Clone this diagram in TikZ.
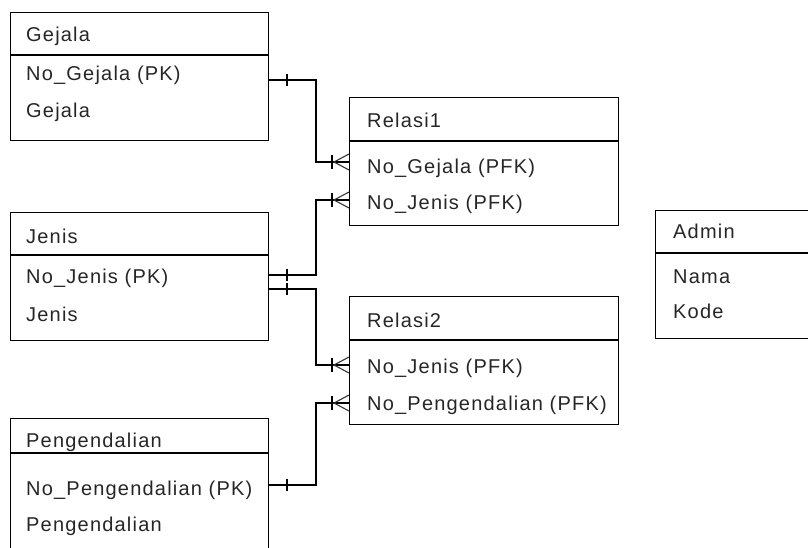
\documentclass[tikz,border=0pt]{standalone}
\usepackage{fontspec}
\setmainfont[LetterSpace=6]{Liberation Sans}
\begin{document}
\begin{tikzpicture}[x=1pt,y=-1pt,
  box/.style={draw=black,line width=1.3pt},
  sep/.style={draw=black,line width=1.3pt},
  txt/.style={anchor=base west,inner sep=0pt,font=\fontsize{20}{24}\selectfont,text=black!85},
  conn/.style={draw=black,line width=1.3pt},
  tick/.style={draw=black,line width=1.3pt},
  crow/.style={draw=black!80,line width=1.1pt}]
\useasboundingbox (0,0) rectangle (808,547);
\begin{scope}
\clip (0,0) rectangle (808,547);
% Gejala
\node[box,anchor=north west,minimum width=258pt,minimum height=128pt,inner sep=0pt] (gejala) at (10,12) {};
\draw[sep] (10,55) -- (268,55);
\node[txt] (gejalaT) at (26,41) {Gejala};
\node[txt] (gejalaA) at (26,80) {No\_Gejala (PK)};
\node[txt] (gejalaB) at (26,117) {Gejala};
% Jenis
\node[box,anchor=north west,minimum width=258pt,minimum height=128pt,inner sep=0pt] (jenis) at (10,212) {};
\draw[sep] (10,255) -- (268,255);
\node[txt] (jenisT) at (26,243) {Jenis};
\node[txt] (jenisA) at (26,283) {No\_Jenis (PK)};
\node[txt] (jenisB) at (26,321) {Jenis};
% Pengendalian
\node[box,anchor=north west,minimum width=258pt,minimum height=150pt,inner sep=0pt] (peng) at (10,418) {};
\draw[sep] (10,453) -- (268,453);
\node[txt] (pengT) at (26,447) {Pengendalian};
\node[txt] (pengA) at (26,495) {No\_Pengendalian (PK)};
\node[txt] (pengB) at (26,531) {Pengendalian};
% Relasi1
\node[box,anchor=north west,minimum width=269pt,minimum height=128pt,inner sep=0pt] (rel1) at (349,97) {};
\draw[sep] (349,141) -- (618,141);
\node[txt] (rel1T) at (367,127) {Relasi1};
\node[txt] (rel1A) at (367,173) {No\_Gejala (PFK)};
\node[txt] (rel1B) at (367,209) {No\_Jenis (PFK)};
% Relasi2
\node[box,anchor=north west,minimum width=269pt,minimum height=128pt,inner sep=0pt] (rel2) at (349,296) {};
\draw[sep] (349,340) -- (618,340);
\node[txt] (rel2T) at (367,327) {Relasi2};
\node[txt] (rel2A) at (367,373) {No\_Jenis (PFK)};
\node[txt] (rel2B) at (367,410) {No\_Pengendalian (PFK)};
% Admin
\node[box,anchor=north west,minimum width=180pt,minimum height=128pt,inner sep=0pt] (admin) at (655,210) {};
\draw[sep] (655,253) -- (835,253);
\node[txt] (adminT) at (673,238) {Admin};
\node[txt] (adminA) at (673,283) {Nama};
\node[txt] (adminB) at (673,318) {Kode};
\end{scope}
% connector end points
\coordinate (g1) at (268,80);  \coordinate (r1a) at (349,162);
\coordinate (j1) at (268,275); \coordinate (r1b) at (349,200);
\coordinate (j2) at (268,289); \coordinate (r2a) at (349,365);
\coordinate (p1) at (268,485); \coordinate (r2b) at (349,403);
% connectors
\draw[conn] (g1) -| (316,121) |- (r1a);
\draw[conn] (j1) -| (316,238) |- (r1b);
\draw[conn] (j2) -| (316,327) |- (r2a);
\draw[conn] (p1) -| (316,444) |- (r2b);
% one-side ticks
\foreach \c in {g1,j1,j2,p1}{
  \draw[tick] ([shift={(19,-6)}]\c) -- ([shift={(19,6)}]\c);
}
% many-side crow's feet
\foreach \c in {r1a,r1b,r2a,r2b}{
  \draw[tick] ([shift={(-17,-7)}]\c) -- ([shift={(-17,7)}]\c);
  \draw[crow] ([shift={(0,-8)}]\c) -- ([shift={(-15,0)}]\c) -- ([shift={(0,8)}]\c);
}
\end{tikzpicture}
\end{document}
